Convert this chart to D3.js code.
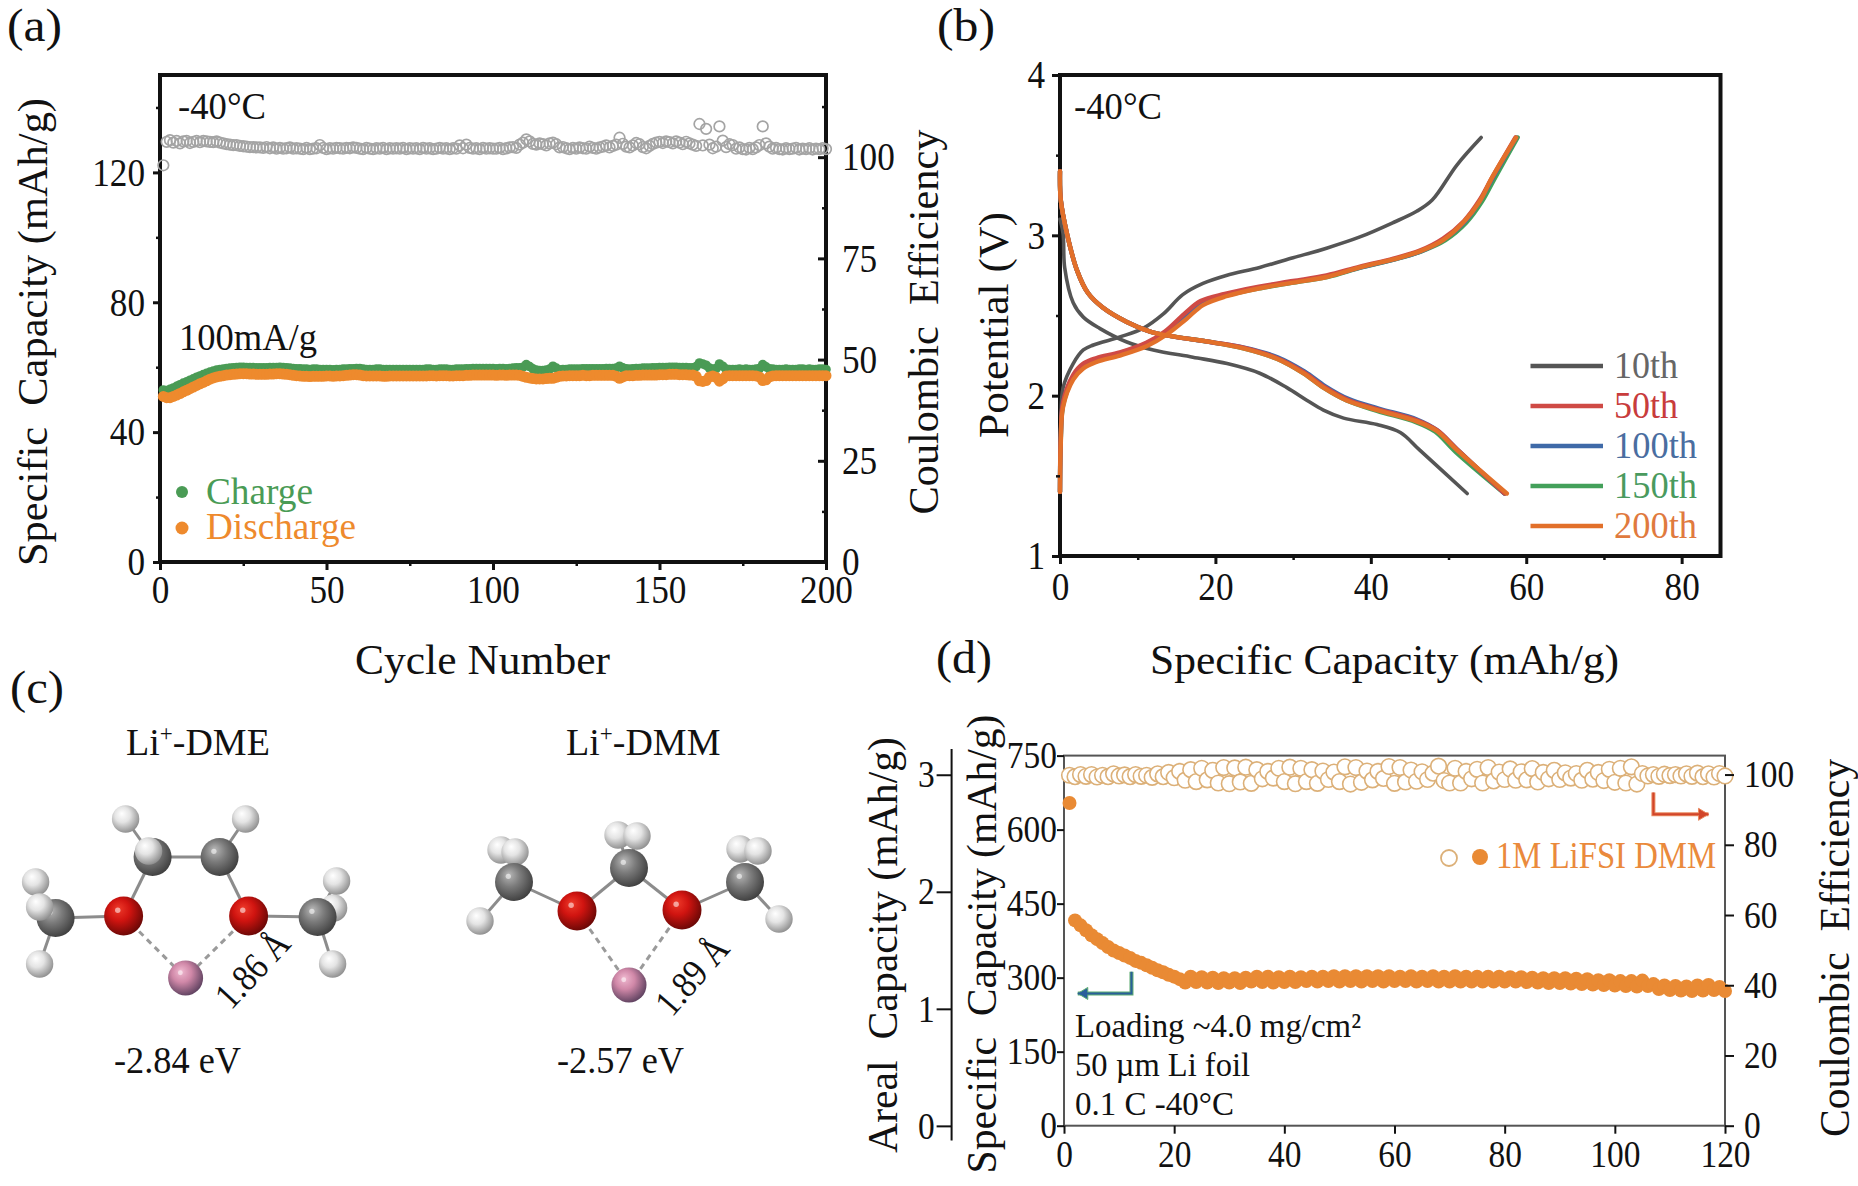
<!DOCTYPE html>
<html lang="en">

<head>
    <meta charset="UTF-8">
    <title>Specific capacity at -40C</title>
    <script src="https://d3js.org/d3.v7.min.js"></script>
    <style>
        body {
            margin: 0;
            background: #fff;
        }

        svg {
            display: block;
        }

        text {
            font-family: "Liberation Serif", serif;
            fill: #111;
            white-space: pre;
        }
    </style>
</head>

<body>
    <svg width="1858" height="1186"></svg>

    <script>
        // (a) long cycling, one value per cycle
        const chargeA = [
            53, 52.8, 53.2, 53.6, 54.1, 54.6, 55.1, 55.5, 56, 56.4,
            56.9, 57.3, 57.7, 58.1, 58.5, 58.8, 59.1, 59.3, 59.4, 59.6,
            59.7, 59.8, 59.9, 60, 60, 59.9, 59.9, 59.9, 59.8, 59.8,
            59.8, 59.8, 59.9, 59.9, 59.9, 60, 59.9, 59.8, 59.7, 59.6,
            59.5, 59.5, 59.4, 59.4, 59.3, 59.4, 59.4, 59.3, 59.3, 59.3,
            59.3, 59.2, 59.3, 59.3, 59.4, 59.4, 59.5, 59.5, 59.6, 59.6,
            59.4, 59.3, 59.3, 59.3, 59.4, 59.4, 59.3, 59.3, 59.3, 59.3,
            59.3, 59.3, 59.3, 59.3, 59.3, 59.3, 59.3, 59.3, 59.3, 59.4,
            59.4, 59.3, 59.3, 59.4, 59.4, 59.4, 59.3, 59.3, 59.4, 59.4,
            59.4, 59.5, 59.5, 59.6, 59.6, 59.6, 59.6, 59.6, 59.6, 59.6,
            59.5, 59.6, 59.6, 59.5, 59.6, 59.7, 59.8, 59.8, 60, 60.8,
            60.2, 59.5, 59.1, 59, 59, 59.1, 59.4, 60.3, 59.7, 59.2,
            59.3, 59.3, 59.4, 59.4, 59.4, 59.4, 59.5, 59.5, 59.5, 59.5,
            59.5, 59.5, 59.5, 59.6, 59.6, 59.6, 59.7, 60.3, 59.8, 59.5,
            59.4, 59.5, 59.6, 59.6, 59.7, 59.7, 59.7, 59.8, 59.8, 59.9,
            59.9, 59.9, 60, 60, 60, 59.9, 59.9, 59.9, 59.8, 59.8,
            60.2, 61.3, 61, 60.6, 59.7, 59.4, 59.6, 61, 60.3, 59.4,
            59.3, 59.3, 59.3, 59.4, 59.3, 59.4, 59.3, 59.3, 59.4, 59.6,
            60.8, 60.1, 59.5, 59.4, 59.3, 59.3, 59.3, 59.4, 59.3, 59.3,
            59.3, 59.4, 59.4, 59.3, 59.4, 59.3, 59.3, 59.4, 59.4, 59.3
        ];
        const dischargeA = [
            51, 50.6, 50.6, 51, 51.4, 51.9, 52.4, 52.9, 53.4, 53.9,
            54.4, 54.9, 55.3, 55.8, 56.3, 56.7, 57, 57.2, 57.4, 57.6,
            57.7, 57.8, 57.9, 58, 58, 58, 57.9, 57.9, 57.8, 57.8,
            57.8, 57.8, 57.9, 57.9, 58, 58, 57.9, 57.8, 57.7, 57.5,
            57.4, 57.3, 57.2, 57.2, 57.1, 57.2, 57.2, 57.2, 57.2, 57.3,
            57.3, 57.2, 57.3, 57.3, 57.4, 57.5, 57.6, 57.7, 57.7, 57.6,
            57.4, 57.3, 57.3, 57.3, 57.3, 57.3, 57.2, 57.2, 57.3, 57.3,
            57.3, 57.3, 57.3, 57.3, 57.3, 57.3, 57.3, 57.3, 57.3, 57.3,
            57.4, 57.4, 57.3, 57.4, 57.4, 57.4, 57.3, 57.3, 57.4, 57.4,
            57.4, 57.5, 57.5, 57.6, 57.6, 57.6, 57.6, 57.6, 57.6, 57.6,
            57.5, 57.6, 57.6, 57.5, 57.6, 57.6, 57.6, 57.5, 57.2, 56.9,
            56.7, 56.5, 56.4, 56.4, 56.4, 56.5, 56.6, 56.6, 56.9, 57.2,
            57.3, 57.3, 57.4, 57.4, 57.4, 57.4, 57.5, 57.4, 57.4, 57.5,
            57.5, 57.5, 57.5, 57.5, 57.5, 57.5, 57.2, 56.6, 57, 57.4,
            57.4, 57.4, 57.5, 57.5, 57.6, 57.6, 57.6, 57.6, 57.6, 57.7,
            57.7, 57.7, 57.8, 57.8, 57.8, 57.7, 57.7, 57.7, 57.6, 57.6,
            57.2, 55.8, 55.6, 55.9, 57, 57.3, 56.9, 55.7, 56.4, 57.3,
            57.4, 57.4, 57.4, 57.4, 57.4, 57.4, 57.4, 57.4, 57.3, 57,
            55.9, 56.1, 57, 57.3, 57.4, 57.4, 57.4, 57.4, 57.4, 57.4,
            57.4, 57.4, 57.4, 57.4, 57.4, 57.4, 57.4, 57.4, 57.4, 57.4
        ];
        const effA = [
            98, 103.8, 104.2, 103.6, 104, 103.4, 103.9, 104, 103.5, 103.8,
            104, 103.7, 104, 103.9, 103.8, 103.7, 103.9, 103.6, 103.4, 103.2,
            103.1, 103, 103, 102.8, 102.7, 102.6, 102.5, 102.5, 102.4, 102.4,
            102.3, 102.5, 102.2, 102.4, 102.1, 102.3, 102.1, 102.2, 102.4, 102.1,
            102.2, 102.1, 102, 102.3, 102, 102.1, 102.2, 103, 102.3, 102,
            102.2, 102.1, 102.3, 102.2, 102.1, 102.3, 102.2, 102.4, 102.3, 102.1,
            102, 102.3, 102.1, 102, 102.2, 102.1, 102.3, 102, 102.2, 102.1,
            102.2, 102.1, 102.3, 102, 102.2, 102.1, 102.2, 102, 102.3, 102.1,
            102.2, 102, 102.1, 102.3, 102.1, 102.2, 102, 102.2, 102.1, 102.9,
            102.2, 103.1, 102.3, 102.1, 102.2, 102, 102.3, 102.1, 102.2, 102.1,
            102.1, 102.3, 102, 102.2, 102.4, 102.5, 102.3, 103.1, 103.6, 104.4,
            103.9, 103.3, 103.1, 103.4, 103.2, 102.9, 103.4, 103.6, 103.2, 102.4,
            102.5, 102.2, 102, 102.3, 102.1, 102.4, 102.2, 102.1, 102.6, 102.3,
            102.1, 102.4, 102.6, 102.9, 102.4, 102.8, 103.1, 104.8, 103.3, 102.6,
            102.4, 102.9, 103.5, 103.2, 102.5, 102.2, 102.8, 103.3, 103.6, 103.8,
            103.5, 103.9, 103.7, 103.4, 103.9, 103.6, 103.2, 103.8, 103.4, 103.1,
            102.8, 108.2, 102.9, 107, 103.1, 102.2, 102.6, 107.6, 104.1, 102.5,
            103.2, 103, 102.1, 102.4, 102, 101.9, 102.3, 102, 102.4, 103,
            107.6, 103.4, 102.6, 102.1, 102.3, 102, 101.9, 102.2, 102, 102.1,
            102.3, 101.9, 102.1, 102, 102.2, 101.9, 102.1, 102, 102.2, 102
        ];

        // (b) voltage profiles, capacity then potential
        const cap10ch = [0, 0.1, 0.4, 1.7, 3, 4.3, 7.7, 10.7, 13.3, 15.8, 18.4, 21.4, 25.7, 30, 34.3, 38.6, 42.9, 45.9, 47.9, 51.1, 54.2];
        const pot10ch = [1.4, 1.8, 2.05, 2.2, 2.285, 2.316, 2.366, 2.42, 2.51, 2.63, 2.7, 2.75, 2.8, 2.86, 2.92, 2.99, 3.08, 3.15, 3.22, 3.44, 3.61];
        const cap10dis = [0, 0.4, 0.6, 1.7, 3, 5.1, 8.6, 12, 17.1, 21.5, 25.7, 29.2, 31.8, 33.9, 36.5, 40.8, 43.8, 46.3, 52.4];
        const pot10dis = [3.1, 3.01, 2.8, 2.58, 2.49, 2.42, 2.335, 2.285, 2.24, 2.2, 2.14, 2.05, 1.97, 1.91, 1.86, 1.82, 1.77, 1.66, 1.39];

        const cap50ch = [0, 0.1, 0.4, 1.7, 3, 4.7, 7.7, 11.1, 13.5, 16, 18.1, 21.2, 25.6, 30, 34.3, 38.6, 42.9, 46.3, 49.3, 52, 54, 55.6, 58.6];
        const pot50ch = [1.4, 1.75, 1.96, 2.13, 2.2, 2.235, 2.27, 2.33, 2.4, 2.51, 2.59, 2.635, 2.68, 2.715, 2.75, 2.805, 2.855, 2.905, 2.98, 3.09, 3.22, 3.36, 3.61];
        const cap100ch = [0, 0.1, 0.4, 1.7, 3, 4.7, 7.7, 11.1, 13.6, 16.1, 18.2, 21.3, 25.7, 30, 34.3, 38.7, 43, 46.4, 49.4, 52.1, 54.1, 55.7, 58.7];
        const pot100ch = [1.4, 1.73, 1.95, 2.12, 2.19, 2.225, 2.265, 2.325, 2.395, 2.5, 2.58, 2.63, 2.675, 2.71, 2.745, 2.8, 2.85, 2.9, 2.975, 3.085, 3.22, 3.36, 3.61];
        const cap150ch = [0, 0.1, 0.4, 1.7, 3, 4.7, 7.7, 11.2, 13.7, 16.3, 18.4, 21.5, 25.8, 30.1, 34.4, 38.8, 43.1, 46.5, 49.6, 52.3, 54.3, 56, 58.9];
        const pot150ch = [1.4, 1.72, 1.94, 2.11, 2.18, 2.22, 2.26, 2.32, 2.39, 2.49, 2.575, 2.625, 2.67, 2.705, 2.74, 2.8, 2.85, 2.9, 2.97, 3.08, 3.21, 3.36, 3.61];
        const cap200ch = [0, 0.1, 0.4, 1.7, 3, 4.7, 7.7, 11.2, 13.7, 16.3, 18.4, 21.4, 25.7, 30, 34.3, 38.6, 42.9, 46.3, 49.3, 51.9, 54, 55.6, 58.7];
        const pot200ch = [1.4, 1.7, 1.93, 2.1, 2.17, 2.21, 2.25, 2.31, 2.38, 2.48, 2.565, 2.62, 2.67, 2.705, 2.74, 2.8, 2.85, 2.9, 2.97, 3.08, 3.21, 3.36, 3.61];

        const cap50dis = [0, 0.1, 0.9, 2.2, 3.6, 5.5, 8.6, 11.6, 14.5, 19.3, 23.6, 27.9, 31.4, 34, 37, 40.9, 46, 48.5, 51, 57.2];
        const pot50dis = [3.4, 3.22, 3.01, 2.78, 2.64, 2.55, 2.46, 2.4, 2.37, 2.335, 2.3, 2.235, 2.145, 2.055, 1.975, 1.915, 1.845, 1.785, 1.67, 1.39];
        const cap100dis = [0, 0.1, 0.9, 2.2, 3.6, 5.5, 8.6, 11.6, 14.5, 19.3, 23.7, 28, 31.5, 34.1, 37.1, 41, 46, 48.5, 51, 57.2];
        const pot100dis = [3.4, 3.22, 3.01, 2.78, 2.64, 2.55, 2.46, 2.4, 2.37, 2.335, 2.3, 2.24, 2.15, 2.06, 1.98, 1.92, 1.85, 1.785, 1.67, 1.39];
        const cap150dis = [0, 0.1, 0.9, 2.2, 3.6, 5.5, 8.6, 11.6, 14.5, 19.3, 23.6, 27.9, 31.3, 33.9, 36.9, 40.8, 45.8, 48.3, 50.9, 57.2];
        const pot150dis = [3.4, 3.22, 3.01, 2.78, 2.64, 2.55, 2.46, 2.4, 2.37, 2.335, 2.295, 2.23, 2.14, 2.05, 1.97, 1.905, 1.835, 1.775, 1.65, 1.39];
        const cap200dis = [0, 0.1, 0.9, 2.2, 3.6, 5.5, 8.6, 11.6, 14.5, 19.3, 23.6, 27.9, 31.3, 33.9, 36.9, 40.8, 45.9, 48.5, 51.1, 57.5];
        const pot200dis = [3.4, 3.22, 3.01, 2.78, 2.64, 2.55, 2.46, 2.4, 2.37, 2.335, 2.295, 2.23, 2.14, 2.05, 1.97, 1.91, 1.84, 1.78, 1.66, 1.39];

        const cycleNames = ["10th", "50th", "100th", "150th", "200th"];
        const cycleColors = ["#555555", "#cf4a45", "#3f6aa8", "#43a05a", "#e2702a"];
        const cycleLabelColors = ["#666666", "#c83c3c", "#4a6da0", "#4a9a5e", "#e07a3e"];

        // (d) full cell cycling
        const capD = [
            654, 416, 406, 396, 386, 378, 370, 362, 355, 350,
            345, 340, 334, 330, 325, 320, 315, 311, 306, 302,
            297, 290, 302, 291, 301, 290, 300, 289, 299, 290,
            299, 289, 300, 292, 302, 291, 302, 290, 301, 291,
            302, 291, 301, 293, 302, 292, 302, 293, 303, 292,
            303, 293, 303, 292, 303, 293, 303, 292, 303, 293,
            302, 293, 303, 292, 302, 293, 303, 292, 302, 292,
            303, 292, 302, 292, 302, 292, 302, 292, 302, 292,
            301, 292, 301, 291, 300, 290, 299, 289, 299, 289,
            299, 288, 298, 287, 297, 286, 295, 285, 295, 284,
            293, 283, 293, 282, 294, 283, 287, 277, 284, 275,
            283, 274, 282, 273, 284, 274, 285, 275, 281, 273
        ];
        const effD = [
            99.8, 99.4, 100, 99.5, 100, 99.3, 99.8, 99.4, 100.2, 99.6,
            99.9, 99.4, 100, 99.5, 99.8, 99.2, 100.2, 99.4, 100.6, 99.1,
            100.9, 98.4, 101.4, 98, 101.8, 98.5, 101.2, 97.6, 102, 97.4,
            101.9, 97.9, 102.1, 97.5, 101.4, 98.8, 100.9, 99, 101.8, 98,
            102.1, 97.4, 101.8, 98, 101.4, 97.5, 101, 98.6, 100.7, 98,
            102.2, 97.3, 102, 97.8, 101, 98.5, 100.9, 98.9, 102.3, 97.5,
            102, 97.9, 101.3, 98.1, 100.8, 98.6, 100.4, 102.4, 98.3, 97.6,
            101.8, 97.6, 100.9, 98.8, 101.5, 97.6, 102, 98.2, 100.7, 98.6,
            101.6, 98.4, 100.8, 98.5, 101.7, 97.9, 100.6, 98.8, 101.2, 98.6,
            100.5, 99, 100.3, 98.4, 101.2, 98.7, 100.6, 98.3, 101.5, 97.8,
            101.8, 97.6, 102.2, 97.3, 100.3, 99.6, 100, 99.5, 100.1, 99.7,
            100, 99.6, 100.2, 99.5, 100.4, 99.4, 100.2, 99.3, 100.3, 99.6
        ];

        // (c) atoms in molecule units, Li at the origin. kind, x, y
        const dmeAtoms = [
            ["H", -6, -15.9], ["H", 6, -15.9], ["C", -3.3, -12.1], ["C", 3.4, -12.1], ["H", -3.7, -12.7],
            ["H", -15, -9.6], ["C", -13, -6], ["H", -14.6, -7.1], ["H", -14.6, -1.4],
            ["H", 14.8, -7], ["H", 15.1, -9.7], ["C", 13.2, -6.1], ["H", 14.7, -1.4],
            ["O", -6.2, -6.2], ["O", 6.3, -6.2], ["Li", 0, 0]
        ];
        const dmeBonds = [[2, 3], [0, 2], [1, 3], [2, 13], [3, 14], [13, 6], [14, 11], [6, 8], [11, 12], [11, 10]];
        const dmeDashes = [[13, 15], [14, 15]];
        const dmmAtoms = [
            ["H", -1.1, -15], ["H", 0.8, -14.9], ["C", 0, -11.7],
            ["H", -12.8, -13.5], ["H", -11.4, -13.3], ["C", -11.5, -10.3], ["H", -14.9, -6.4],
            ["H", 11.1, -13.6], ["H", 12.9, -13.4], ["C", 11.6, -10.3], ["H", 15, -6.6],
            ["O", -5.2, -7.4], ["O", 5.3, -7.5], ["Li", 0, 0]
        ];
        const dmmBonds = [[2, 11], [2, 12], [5, 11], [9, 12], [5, 6], [9, 10], [0, 2], [1, 2]];
        const dmmDashes = [[11, 13], [12, 13]];

        const svg = d3.select("svg");
        const serif = "Liberation Serif";

        // text with a measured width, the originals are a bit stretched
        function label(g, str, x, y, size, length, opts = {}) {
            const t = g.append("text")
                .attr("x", x).attr("y", y)
                .attr("font-size", size)
                .attr("text-anchor", opts.anchor || "start")
                .style("fill", opts.fill || "#111")
                .text(str);
            if (length) t.attr("textLength", length).attr("lengthAdjust", "spacingAndGlyphs");
            if (opts.rotate !== undefined) t.attr("transform", `rotate(${opts.rotate},${x},${y})`);
            return t;
        }

        // tick digits in the figure are narrow, about 0.44em each
        function styleAxis(sel, size, width) {
            sel.select(".domain").remove();
            sel.selectAll("line").attr("stroke", "#111").attr("stroke-width", width);
            sel.selectAll("text").attr("font-size", size).attr("font-family", serif).style("fill", "#111")
                .each(function () {
                    const s = d3.select(this);
                    if (s.text()) s.attr("textLength", s.text().length * size * 0.44).attr("lengthAdjust", "spacingAndGlyphs");
                });
        }

        function addAxis(axis, tx, ty, size, width) {
            if (axis.tickFormat() == null) axis.tickFormat(d3.format("d"));
            return svg.append("g").attr("transform", `translate(${tx},${ty})`).call(axis).call(styleAxis, size, width);
        }

        // ---------- panel a ----------
        const ax = d3.scaleLinear().domain([0, 200]).range([160, 826]);
        const ay = d3.scaleLinear().domain([0, 150]).range([562, 75]);
        const ayR = d3.scaleLinear().domain([0, 120.3]).range([562, 75]);
        const cycles = d3.range(1, 201);

        svg.append("rect").attr("x", 160).attr("y", 75).attr("width", 666).attr("height", 487)
            .attr("fill", "#fff").attr("stroke", "#111").attr("stroke-width", 4);

        const aMarks = svg.append("g");
        aMarks.selectAll(".eff").data(cycles).join("circle")
            .attr("class", "eff")
            .attr("cx", d => ax(d)).attr("cy", d => ayR(effA[d - 1])).attr("r", 5.3)
            .attr("fill", "none").attr("stroke", "#a4a4a4").attr("stroke-width", 1.7);
        aMarks.selectAll(".ch").data(cycles).join("circle")
            .attr("class", "ch")
            .attr("cx", d => ax(d)).attr("cy", d => ay(chargeA[d - 1])).attr("r", 4.8).attr("fill", "#4a9b55");
        aMarks.selectAll(".dis").data(cycles).join("circle")
            .attr("class", "dis")
            .attr("cx", d => ax(d)).attr("cy", d => ay(dischargeA[d - 1])).attr("r", 5.5).attr("fill", "#ee8a2d");

        addAxis(d3.axisBottom(ax).tickValues([0, 50, 100, 150, 200]).tickSize(8).tickPadding(5), 0, 562, 40, 3);
        addAxis(d3.axisBottom(ax).tickValues([25, 75, 125, 175]).tickSize(4).tickFormat(""), 0, 562, 40, 2.5);
        addAxis(d3.axisLeft(ay).tickValues([0, 40, 80, 120]).tickSize(7).tickPadding(8), 160, 0, 40, 3);
        addAxis(d3.axisLeft(ay).tickValues([20, 60, 100, 140]).tickSize(4).tickFormat(""), 160, 0, 40, 2.5);
        addAxis(d3.axisRight(ayR).tickValues([0, 25, 50, 75, 100]).tickSize(-8).tickPadding(16), 826, 0, 40, 3);
        addAxis(d3.axisRight(ayR).tickValues([12.5, 37.5, 62.5, 87.5, 112.5]).tickSize(-4).tickFormat(""), 826, 0, 40, 2.5);

        label(svg, "(a)", 7, 41, 46, 55);
        label(svg, "Specific  Capacity (mAh/g)", 47, 332, 43, 468, { anchor: "middle", rotate: -90 });
        label(svg, "Coulombic  Efficiency", 938, 322, 43, 385, { anchor: "middle", rotate: -90 });
        label(svg, "Cycle Number", 355, 674, 43, 255);
        label(svg, "-40°C", 178, 119, 38, 88);
        label(svg, "100mA/g", 179, 350, 37, 138);
        svg.append("circle").attr("cx", 182).attr("cy", 492).attr("r", 6).attr("fill", "#4a9b55");
        svg.append("circle").attr("cx", 182).attr("cy", 528).attr("r", 6.5).attr("fill", "#ee8a2d");
        label(svg, "Charge", 206, 504, 38, 107, { fill: "#4a9b55" });
        label(svg, "Discharge", 206, 539, 38, 150, { fill: "#ee8a2d" });

        // ---------- panel b ----------
        const bx = d3.scaleLinear().domain([0, 85]).range([1060, 1720.5]);
        const by = d3.scaleLinear().domain([1, 4]).range([556, 75]);

        svg.append("rect").attr("x", 1060).attr("y", 75).attr("width", 660.5).attr("height", 481)
            .attr("fill", "#fff").attr("stroke", "#111").attr("stroke-width", 4);

        const profile = d3.line().x(d => bx(d[0])).y(d => by(d[1])).curve(d3.curveCatmullRom.alpha(0.5));
        const profiles = [
            [cap10ch, pot10ch, 0], [cap10dis, pot10dis, 0],
            [cap150ch, pot150ch, 3], [cap150dis, pot150dis, 3],
            [cap100ch, pot100ch, 2], [cap100dis, pot100dis, 2],
            [cap50ch, pot50ch, 1], [cap50dis, pot50dis, 1],
            [cap200ch, pot200ch, 4], [cap200dis, pot200dis, 4]
        ];
        svg.append("g").selectAll("path").data(profiles).join("path")
            .attr("d", d => profile(d3.zip(d[0], d[1])))
            .attr("fill", "none")
            .attr("stroke", d => cycleColors[d[2]])
            .attr("stroke-width", d => d[2] === 0 ? 3.6 : 4.4)
            .attr("stroke-linecap", "round");

        addAxis(d3.axisBottom(bx).tickValues([0, 20, 40, 60, 80]).tickSize(8).tickPadding(8), 0, 556, 40, 3);
        addAxis(d3.axisBottom(bx).tickValues([10, 30, 50, 70]).tickSize(4).tickFormat(""), 0, 556, 40, 2.5);
        addAxis(d3.axisLeft(by).tickValues([1, 2, 3, 4]).tickSize(8).tickPadding(7), 1060, 0, 40, 3);
        addAxis(d3.axisLeft(by).tickValues([1.5, 2.5, 3.5]).tickSize(4).tickFormat(""), 1060, 0, 40, 2.5);

        label(svg, "(b)", 937, 41, 46, 58);
        label(svg, "Potential (V)", 1008, 325, 43, 226, { anchor: "middle", rotate: -90 });
        label(svg, "Specific Capacity (mAh/g)", 1150, 674, 43, 469);
        label(svg, "-40°C", 1074, 119, 38, 88);

        const legendY = d3.scalePoint().domain(cycleNames).range([366, 526]);
        const legendB = svg.append("g").selectAll("g").data(cycleNames).join("g");
        legendB.append("line")
            .attr("x1", 1530.5).attr("x2", 1603)
            .attr("y1", d => legendY(d)).attr("y2", d => legendY(d))
            .attr("stroke", (d, i) => cycleColors[i]).attr("stroke-width", 4.5);
        legendB.append("text")
            .attr("x", 1614).attr("y", d => legendY(d) + 12)
            .attr("font-size", 37)
            .attr("textLength", d => d.length === 4 ? 64 : 83)
            .attr("lengthAdjust", "spacingAndGlyphs")
            .style("fill", (d, i) => cycleLabelColors[i])
            .text(d => d);

        // ---------- panel c ----------
        const defs = svg.append("defs");
        const atomShades = {
            C: ["#b8b8b8", "#7c7c7c", "#3f3f3f"],
            H: ["#ffffff", "#e4e4e4", "#8f8f8f"],
            O: ["#ee3a2a", "#d01410", "#6a0806"],
            Li: ["#f0b9d0", "#d088a8", "#5f4260"]
        };
        const atomRadius = { C: 19, H: 13.7, O: 19.5, Li: 17.5 };
        Object.keys(atomShades).forEach(k => {
            const grad = defs.append("radialGradient").attr("id", "atom" + k)
                .attr("cx", "0.42").attr("cy", "0.4").attr("r", "0.62").attr("fx", "0.36").attr("fy", "0.3");
            grad.append("stop").attr("offset", "0").attr("stop-color", atomShades[k][0]);
            grad.append("stop").attr("offset", "0.45").attr("stop-color", atomShades[k][1]);
            grad.append("stop").attr("offset", "1").attr("stop-color", atomShades[k][2]);
        });

        function drawMolecule(atoms, bonds, dashes, liX, liY) {
            const mx = d3.scaleLinear().domain([0, 1]).range([liX, liX + 10]);
            const my = d3.scaleLinear().domain([0, 1]).range([liY, liY + 10]);
            const g = svg.append("g");
            g.selectAll(".bond").data(bonds).join("line").attr("class", "bond")
                .attr("x1", d => mx(atoms[d[0]][1])).attr("y1", d => my(atoms[d[0]][2]))
                .attr("x2", d => mx(atoms[d[1]][1])).attr("y2", d => my(atoms[d[1]][2]))
                .attr("stroke", "#8c8c8c").attr("stroke-width", 3);
            g.selectAll(".dash").data(dashes).join("line").attr("class", "dash")
                .attr("x1", d => mx(atoms[d[0]][1])).attr("y1", d => my(atoms[d[0]][2]))
                .attr("x2", d => mx(atoms[d[1]][1])).attr("y2", d => my(atoms[d[1]][2]))
                .attr("stroke", "#9a9a9a").attr("stroke-width", 3).attr("stroke-dasharray", "6 5");
            atoms.forEach(d => {
                const r = atomRadius[d[0]];
                g.append("circle").attr("cx", mx(d[1])).attr("cy", my(d[2])).attr("r", r)
                    .attr("fill", `url(#atom${d[0]})`);
                // small specular spot
                g.append("circle").attr("cx", mx(d[1]) - r * 0.3).attr("cy", my(d[2]) - r * 0.3).attr("r", r * 0.14)
                    .attr("fill", "#fff").attr("fill-opacity", d[0] === "H" ? 0 : 0.55);
            });
        }
        drawMolecule(dmeAtoms, dmeBonds, dmeDashes, 185.6, 978);
        drawMolecule(dmmAtoms, dmmBonds, dmmDashes, 629, 985);

        label(svg, "(c)", 10, 703, 46, 54);
        const dmeTitle = label(svg, "Li", 126, 755, 38);
        dmeTitle.append("tspan").attr("dy", -14).attr("font-size", 23).text("+");
        dmeTitle.append("tspan").attr("dy", 14).text("-DME");
        const dmmTitle = label(svg, "Li", 566, 755, 38);
        dmmTitle.append("tspan").attr("dy", -14).attr("font-size", 23).text("+");
        dmmTitle.append("tspan").attr("dy", 14).text("-DMM");
        label(svg, "-2.84 eV", 114, 1073, 38, 127);
        label(svg, "-2.57 eV", 557, 1073, 38, 127);
        label(svg, "1.86 Å", 231, 1011, 38, 90, { rotate: -47 });
        label(svg, "1.89 Å", 672, 1018, 38, 90, { rotate: -49 });

        // ---------- panel d ----------
        const dx = d3.scaleLinear().domain([0, 120]).range([1064, 1725]);
        const dy = d3.scaleLinear().domain([0, 750]).range([1125.7, 755.6]);
        const dyR = d3.scaleLinear().domain([0, 105.4]).range([1125.7, 755.6]);
        const dyA = d3.scaleLinear().domain([-0.125, 3.22]).range([1140.5, 749]);
        const cyclesD = d3.range(1, 121);

        svg.append("rect").attr("x", 1064).attr("y", 755.6).attr("width", 661).attr("height", 370.1)
            .attr("fill", "#fff").attr("stroke", "#555").attr("stroke-width", 2);

        svg.append("g").selectAll("circle").data(cyclesD).join("circle")
            .attr("cx", d => dx(d)).attr("cy", d => dyR(effD[d - 1])).attr("r", 7.8)
            .attr("fill", "#fff").attr("stroke", "#dcb078").attr("stroke-width", 1.6);
        svg.append("g").selectAll("circle").data(cyclesD).join("circle")
            .attr("cx", d => dx(d)).attr("cy", d => dy(capD[d - 1])).attr("r", 7)
            .attr("fill", "#e98a34");

        addAxis(d3.axisBottom(dx).tickValues([0, 20, 40, 60, 80, 100, 120]).tickSize(8).tickPadding(6), 0, 1125.7, 38, 2);
        addAxis(d3.axisLeft(dy).tickValues([0, 150, 300, 450, 600, 750]).tickSize(7).tickPadding(0), 1064, 0, 38, 2);
        addAxis(d3.axisRight(dyR).tickValues([0, 20, 40, 60, 80, 100]).tickSize(9).tickPadding(10), 1725, 0, 38, 2);
        addAxis(d3.axisLeft(dyA).tickValues([0, 1, 2, 3]).tickSize(15).tickPadding(2), 951.6, 0, 38, 2);
        svg.append("line").attr("x1", 951.6).attr("x2", 951.6).attr("y1", dyA(3.22)).attr("y2", dyA(-0.125))
            .attr("stroke", "#111").attr("stroke-width", 2);

        label(svg, "(d)", 936, 673, 46, 56);
        label(svg, "Areal  Capacity (mAh/g)", 897, 945, 43, 416, { anchor: "middle", rotate: -90 });
        label(svg, "Specific  Capacity (mAh/g)", 996, 944, 43, 459, { anchor: "middle", rotate: -90 });
        label(svg, "Coulombic  Efficiency", 1849, 948, 42, 378, { anchor: "middle", rotate: -90 });
        label(svg, "Loading ~4.0 mg/cm²", 1075, 1037, 33, 286);
        label(svg, "50 µm Li foil", 1075, 1076, 33, 175);
        label(svg, "0.1 C -40°C", 1075, 1115, 33, 159);

        svg.append("circle").attr("cx", 1449).attr("cy", 858).attr("r", 8)
            .attr("fill", "none").attr("stroke", "#dcb078").attr("stroke-width", 1.8);
        svg.append("circle").attr("cx", 1480).attr("cy", 857).attr("r", 8).attr("fill", "#e98a34");
        label(svg, "1M LiFSI DMM", 1496, 868, 37, 220, { fill: "#ea8a3c" });

        // direction arrows, placed on the data scales
        function elbowArrow(xFrom, yFrom, yTo, xTo, edge, color) {
            const head = xTo > xFrom ? -1 : 1;
            const px = dx(xTo);
            const py = dy(yTo);
            const lineD = `M${dx(xFrom)},${dy(yFrom)}V${py}H${px}`;
            const headD = `M${px},${py}l${head * 10},-6v12z`;
            svg.append("path").attr("d", lineD).attr("fill", "none").attr("stroke", edge).attr("stroke-width", 4);
            svg.append("path").attr("d", headD).attr("fill", color).attr("stroke", edge).attr("stroke-width", 1);
            svg.append("path").attr("d", lineD).attr("fill", "none").attr("stroke", color).attr("stroke-width", 2);
        }
        elbowArrow(12.25, 312, 268, 2.5, "#5fae72", "#2a5f9a");
        elbowArrow(107, 675, 631, 117, "#e98a60", "#d2452a");
    </script>
</body>

</html>
